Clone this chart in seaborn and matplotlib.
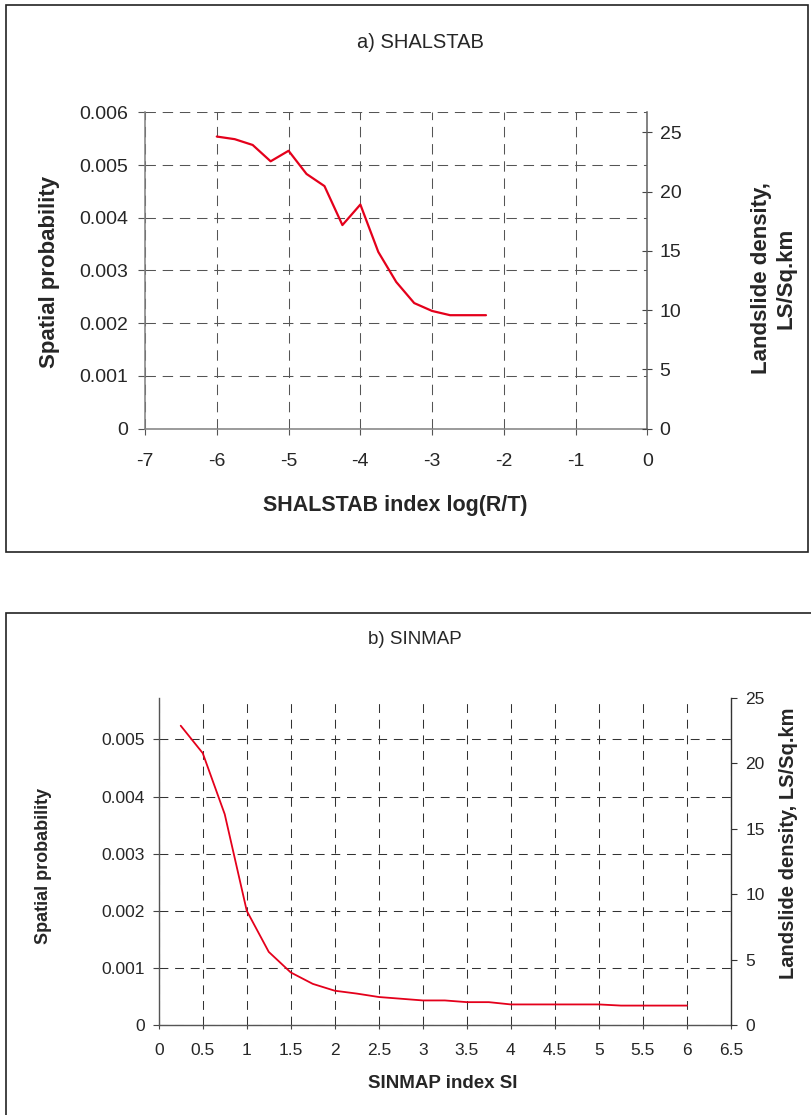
import matplotlib
matplotlib.use("Agg")
import matplotlib.pyplot as plt
import seaborn as sns
import pandas as pd
from matplotlib.patches import Rectangle

# ---------------- data ----------------
shal_x = [-6.0, -5.75, -5.5, -5.25, -5.0, -4.75, -4.5, -4.25, -4.0,
          -3.75, -3.5, -3.25, -3.0, -2.75, -2.5, -2.25]
shal_p = [0.00554, 0.00549, 0.00538, 0.00507, 0.00527, 0.00483, 0.00460,
          0.00386, 0.00425, 0.00335, 0.00278, 0.00238, 0.00223, 0.00215,
          0.00215, 0.00215]

sin_x = [0.25, 0.5, 0.75, 1.0, 1.25, 1.5, 1.75, 2.0, 2.25, 2.5, 2.75, 3.0,
         3.25, 3.5, 3.75, 4.0, 4.25, 4.5, 4.75, 5.0, 5.25, 5.5, 5.75, 6.0]
sin_p = [0.00524, 0.00476, 0.00369, 0.00200, 0.00128, 0.00092, 0.00072,
         0.00060, 0.00055, 0.00049, 0.00046, 0.00043, 0.00043, 0.00040,
         0.00040, 0.00036, 0.00036, 0.00036, 0.00036, 0.00036, 0.00034,
         0.00034, 0.00034, 0.00034]

shal_xticks = [-7, -6, -5, -4, -3, -2, -1, 0]
shal_yticks = [0, 0.001, 0.002, 0.003, 0.004, 0.005, 0.006]
shal_yticklabels = ["0", "0.001", "0.002", "0.003", "0.004", "0.005", "0.006"]
shal_rticks = [0, 5, 10, 15, 20, 25]

sin_xticks = [0, 0.5, 1, 1.5, 2, 2.5, 3, 3.5, 4, 4.5, 5, 5.5, 6, 6.5]
sin_xticklabels = ["0", "0.5", "1", "1.5", "2", "2.5", "3", "3.5", "4",
                   "4.5", "5", "5.5", "6", "6.5"]
sin_yticks = [0, 0.001, 0.002, 0.003, 0.004, 0.005]
sin_yticklabels = ["0", "0.001", "0.002", "0.003", "0.004", "0.005"]
sin_rticks = [0, 5, 10, 15, 20, 25]

# ---------------- style ----------------
sns.set_theme(style="white")
plt.rcParams["font.family"] = ["Liberation Sans", "DejaVu Sans"]
plt.rcParams["axes.unicode_minus"] = False

W, H = 812, 1115
fig = plt.figure(figsize=(W / 100, H / 100), dpi=100)
fig.patch.set_facecolor("white")

def fx(px):
    return px / W

def fy(py):
    return 1 - py / H

# outer frames
fig.patches.append(Rectangle((fx(6), fy(552)), fx(808) - fx(6), fy(5) - fy(552),
                             transform=fig.transFigure, fill=False,
                             edgecolor="#222222", linewidth=1.2))
fig.patches.append(Rectangle((fx(6), fy(1130)), fx(830) - fx(6), fy(613) - fy(1130),
                             transform=fig.transFigure, fill=False,
                             edgecolor="#222222", linewidth=1.2, clip_on=False))

RED = "#e4001b"

# ================= top chart =================
L, R, T, B = 145, 647.5, 112.3, 428.5
ax = fig.add_axes([fx(L), fy(B), fx(R) - fx(L), fy(T) - fy(B)])
df1 = pd.DataFrame({"x": shal_x, "p": shal_p})
sns.lineplot(data=df1, x="x", y="p", ax=ax, color=RED, linewidth=1.6)
ax.set_xlim(-7, 0)
ax.set_ylim(0, 0.006)
ax.set_xticks(shal_xticks)
ax.set_xticklabels([str(v) for v in shal_xticks])
ax.set_yticks(shal_yticks)
ax.set_yticklabels(shal_yticklabels)
ax.grid(True, color="#555555", linestyle=(0, (10, 6.5)), linewidth=0.75)
for s in ["top", "right"]:
    ax.spines[s].set_visible(False)
for s in ["left", "bottom"]:
    ax.spines[s].set_color("#808080")
    ax.spines[s].set_linewidth(1.1)
ax.tick_params(axis="y", direction="out", length=5, width=0.8, color="#555555",
               labelsize=14, pad=7, left=True)
ax.tick_params(axis="x", direction="out", length=4.5, width=0.8, color="#555555",
               labelsize=14, pad=13, bottom=True)
ax.set_xlabel("SHALSTAB index log(R/T)", fontsize=15.5, fontweight="bold")
ax.set_ylabel("Spatial probability", fontsize=16, fontweight="bold")
ax.xaxis.set_label_coords((395 - L) / (R - L), (B - 505) / (B - T))
ax.xaxis.label.set_va("center")
ax.yaxis.set_label_coords((50 - L) / (R - L), (B - 272) / (B - T))
ax.yaxis.label.set_va("center")
ax.set_title("a) SHALSTAB", fontsize=14.5, x=(420 - L) / (R - L),
             y=(B - 42) / (B - T), va="center", pad=0)

ax2 = ax.twinx()
ax2.set_ylim(0, 26.69)
ax2.set_yticks(shal_rticks)
ax2.set_yticklabels([str(v) for v in shal_rticks])
for s in ["top", "left", "bottom"]:
    ax2.spines[s].set_visible(False)
ax2.spines["right"].set_color("#606060")
ax2.spines["right"].set_linewidth(1.1)
ax2.tick_params(axis="y", direction="inout", length=7.5, width=0.8, color="#444444",
                labelsize=14, pad=5, right=True)
ax2.grid(False)
ax2.set_ylabel("Landslide density,\nLS/Sq.km", fontsize=16, fontweight="bold",
               multialignment="center", linespacing=1.25)
ax2.yaxis.set_label_coords((774 - L) / (R - L), (B - 278) / (B - T))
ax2.yaxis.label.set_rotation(90)
ax2.yaxis.label.set_va("center")

# ================= bottom chart =================
L2, R2, T2, B2 = 158.7, 731, 698, 1025
bx = fig.add_axes([fx(L2), fy(B2), fx(R2) - fx(L2), fy(T2) - fy(B2)])
df2 = pd.DataFrame({"x": sin_x, "p": sin_p})
sns.lineplot(data=df2, x="x", y="p", ax=bx, color=RED, linewidth=1.3)
bx.set_xlim(0, 6.5)
bx.set_ylim(0, 0.005725)
bx.set_xticks(sin_xticks)
bx.set_xticklabels(sin_xticklabels)
bx.set_yticks(sin_yticks)
bx.set_yticklabels(sin_yticklabels)
bx.grid(True, color="#333333", linestyle=(0, (8.5, 6.5)), linewidth=0.75)
for s in ["top", "right"]:
    bx.spines[s].set_visible(False)
for s in ["left", "bottom"]:
    bx.spines[s].set_color("#555555")
    bx.spines[s].set_linewidth(1.0)
bx.tick_params(axis="y", direction="out", length=4, width=0.8, color="#444444",
               labelsize=12.5, pad=6, left=True)
bx.tick_params(axis="x", direction="out", length=3, width=0.8, color="#444444",
               labelsize=12.5, pad=10, bottom=True)
bx.set_xlabel("SINMAP index SI", fontsize=13.5, fontweight="bold")
bx.set_ylabel("Spatial probability", fontsize=13, fontweight="bold")
bx.xaxis.set_label_coords((443 - L2) / (R2 - L2), (B2 - 1084) / (B2 - T2))
bx.xaxis.label.set_va("center")
bx.yaxis.set_label_coords((44 - L2) / (R2 - L2), (B2 - 866) / (B2 - T2))
bx.yaxis.label.set_va("center")
bx.set_title("b) SINMAP", fontsize=13.5, x=(415 - L2) / (R2 - L2),
             y=(B2 - 640) / (B2 - T2), va="center", pad=0)

bx2 = bx.twinx()
bx2.set_ylim(0, 25)
bx2.set_yticks(sin_rticks)
bx2.set_yticklabels([str(v) for v in sin_rticks])
for s in ["top", "left", "bottom"]:
    bx2.spines[s].set_visible(False)
bx2.spines["right"].set_color("#333333")
bx2.spines["right"].set_linewidth(1.0)
bx2.tick_params(axis="y", direction="out", length=4.5, width=0.8, color="#333333",
                labelsize=12.5, pad=6, right=True)
bx2.grid(False)
bx2.set_ylabel("Landslide density, LS/Sq.km", fontsize=14.5, fontweight="bold")
bx2.yaxis.set_label_coords((788 - L2) / (R2 - L2), (B2 - 843) / (B2 - T2))
bx2.yaxis.label.set_rotation(90)
bx2.yaxis.label.set_va("center")

fig.savefig("out.png", dpi=100, facecolor="white")
